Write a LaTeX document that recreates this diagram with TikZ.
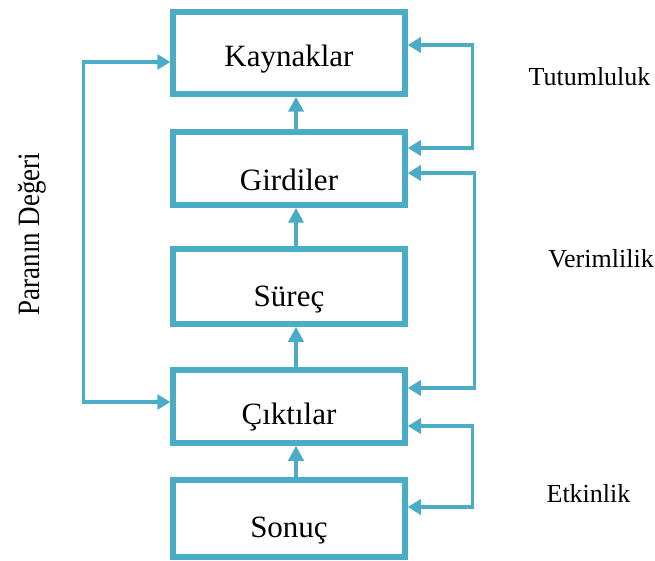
\documentclass[tikz,border=0pt]{standalone}
\usepackage{fontspec}
\setmainfont{Liberation Serif}
\usetikzlibrary{arrows.meta}
\definecolor{flowblue}{RGB}{75,172,198}
\newfontfamily\labelfont{Liberation Serif}
\tikzset{
  box/.style={draw=flowblue, line width=5.5pt, minimum width=232pt,
    inner sep=0pt, text depth=0pt, font=\fontsize{31}{36}\selectfont},
  upflow/.style={draw=flowblue, line width=4pt,
    -{Triangle[length=15pt,width=15pt]}},
  loopflow/.style={draw=flowblue, line width=3.4pt,
    {Triangle[length=13pt,width=15pt]}-{Triangle[length=13pt,width=15pt]}},
  sidetext/.style={anchor=base, inner sep=0pt, font=\fontsize{26}{30}\selectfont},
}
\begin{document}
\begin{tikzpicture}[x=1pt,y=-1pt]
\useasboundingbox (0,0) rectangle (655,561);

% the five stages
\node[box, minimum height=82pt, text height=28pt] (kaynak) at (289,53)    {Kaynaklar};
\node[box, minimum height=73pt, text height=44pt] (girdi)  at (289,168.5) {Girdiler};
\node[box, minimum height=75pt, text height=40pt] (surec)  at (289,286.5) {Süreç};
\node[box, minimum height=73pt, text height=36pt] (cikti)  at (289,406.5) {Çıktılar};
\node[box, minimum height=77pt, text height=38pt] (sonuc)  at (289,518.5) {Sonuç};

% upward flow between stages
\draw[upflow] ([xshift=7pt]girdi.north) -- ([xshift=7pt]kaynak.south);
\draw[upflow] ([xshift=7pt]surec.north) -- ([xshift=7pt]girdi.south);
\draw[upflow] ([xshift=7pt]cikti.north) -- ([xshift=7pt]surec.south);
\draw[upflow] ([xshift=7pt]sonuc.north) -- ([xshift=7pt]cikti.south);

% feedback loops on the right
\draw[loopflow] ([yshift=8pt]kaynak.east) -- ++(65,0) |- ([yshift=20.5pt]girdi.east);
\draw[loopflow] ([yshift=-4.5pt]girdi.east) -- ++(67,0) |- ([yshift=18.5pt]cikti.east);
\draw[loopflow] ([yshift=-19.5pt]cikti.east) -- ++(65,0) |- ([yshift=11.5pt]sonuc.east);

% loop on the left
\draw[loopflow] ([yshift=-9pt]kaynak.west) -- ++(-87,0) |- ([yshift=4.5pt]cikti.west);

% labels
\node[sidetext] (tutum) at (589.5,86)  {Tutumluluk};
\node[sidetext] (verim) at (601,267)   {Verimlilik};
\node[sidetext] (etkin) at (588.5,502) {Etkinlik};
\node[anchor=base, inner sep=0pt, rotate=90, font=\fontsize{27}{30}\selectfont]
  (para) at (39,234) {\scalebox{1}[1.15]{Paranın Değeri}};
\end{tikzpicture}
\end{document}
